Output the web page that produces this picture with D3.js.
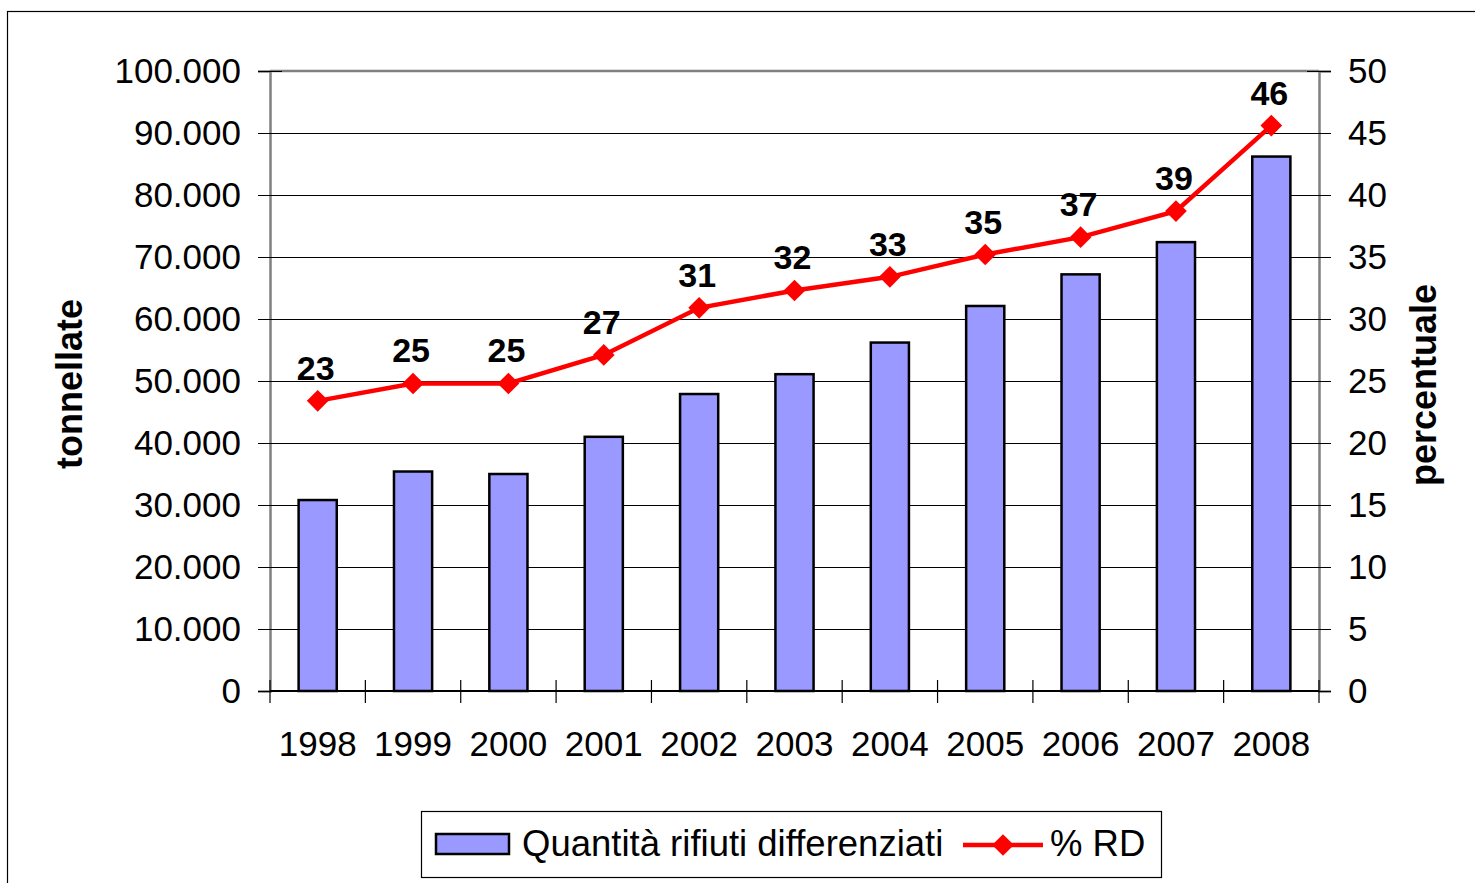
<!DOCTYPE html>
<html>
<head>
<meta charset="utf-8">
<script src="https://cdn.jsdelivr.net/npm/d3@7"></script>
<style>
  body { margin: 0; background: #fff; }
  text { font-family: "Liberation Sans", Arial, sans-serif; }
</style>
</head>
<body>
<div id="viz"></div>
<script>
// data
const years = ["1998", "1999", "2000", "2001", "2002", "2003", "2004", "2005", "2006", "2007", "2008"];
const tonnes = [30800, 35400, 35000, 41000, 47900, 51100, 56200, 62100, 67200, 72400, 86200];
const pctRD = [23.4, 24.8, 24.8, 27.1, 30.9, 32.3, 33.4, 35.2, 36.6, 38.7, 45.6];
const leftTicks = d3.range(0, 100001, 10000);
const rightTicks = d3.range(0, 51, 5);
const legendLabels = ["Quantità rifiuti differenziati", "% RD"];

let width = 1475;
let height = 883;
let plot = { left: 270, right: 1319, top: 71, bottom: 691 };

let itLocale = d3.formatLocale({ decimal: ",", thousands: ".", grouping: [3], currency: ["€", ""] });
let fmtT = itLocale.format(",d");

let svg = d3.select("#viz").append("svg")
  .attr("width", width)
  .attr("height", height);

// outer chart border
svg.append("rect")
  .attr("x", 7.5).attr("y", 11.5)
  .attr("width", 1480).attr("height", 890)
  .attr("fill", "none")
  .attr("stroke", "#000")
  .attr("stroke-width", 1.2);

let xScale = d3.scaleBand().domain(years).range([plot.left, plot.right]).padding(0);
let yLeft = d3.scaleLinear().domain([0, 100000]).range([plot.bottom, plot.top]);
let yRight = d3.scaleLinear().domain([0, 50]).range([plot.bottom, plot.top]);

// gridlines
svg.append("g")
  .attr("transform", `translate(${plot.left},0)`)
  .call(d3.axisLeft(yLeft).tickValues(leftTicks.slice(1, -1)).tickSize(-(plot.right - plot.left)).tickFormat(""))
  .call(g => g.select(".domain").remove())
  .selectAll("line").attr("stroke", "#000").attr("stroke-width", 1);

// top border of plot
svg.append("line")
  .attr("x1", plot.left).attr("x2", plot.right)
  .attr("y1", plot.top).attr("y2", plot.top)
  .attr("stroke", "#808080").attr("stroke-width", 2.5);

// bars
let barW = xScale.bandwidth() * 0.4;
svg.append("g")
  .selectAll("rect")
  .data(years)
  .enter()
  .append("rect")
  .attr("x", d => xScale(d) + xScale.bandwidth() / 2 - barW / 2)
  .attr("y", (d, i) => yLeft(tonnes[i]))
  .attr("width", barW)
  .attr("height", (d, i) => plot.bottom - yLeft(tonnes[i]))
  .attr("fill", "#9999ff")
  .attr("stroke", "#000")
  .attr("stroke-width", 2.5);

// left axis
let leftAxis = svg.append("g")
  .attr("transform", `translate(${plot.left},0)`)
  .call(d3.axisLeft(yLeft).tickValues(leftTicks).tickSize(12).tickPadding(17).tickFormat(fmtT));
leftAxis.select(".domain").attr("stroke", "#808080").attr("stroke-width", 2.5);
leftAxis.selectAll(".tick line").attr("x1", 12).attr("x2", -12).attr("stroke", "#000");
leftAxis.selectAll("text").style("font-size", "35px").attr("fill", "#000")
  .style("font-family", "'Liberation Sans', Arial, sans-serif");

// right axis
let rightAxis = svg.append("g")
  .attr("transform", `translate(${plot.right},0)`)
  .call(d3.axisRight(yRight).tickValues(rightTicks).tickSize(12).tickPadding(17));
rightAxis.select(".domain").attr("stroke", "#808080").attr("stroke-width", 2.5);
rightAxis.selectAll(".tick line").attr("x1", -12).attr("x2", 12).attr("stroke", "#000");
rightAxis.selectAll("text").style("font-size", "35px").attr("fill", "#000")
  .style("font-family", "'Liberation Sans', Arial, sans-serif");

// bottom axis
let bottomAxis = svg.append("g")
  .attr("transform", `translate(0,${plot.bottom})`)
  .call(d3.axisBottom(xScale).tickSize(0).tickPadding(40));
bottomAxis.select(".domain").remove();
bottomAxis.selectAll("text").style("font-size", "35px").attr("fill", "#000")
  .style("font-family", "'Liberation Sans', Arial, sans-serif");

svg.append("line")
  .attr("x1", plot.left).attr("x2", plot.right)
  .attr("y1", plot.bottom).attr("y2", plot.bottom)
  .attr("stroke", "#000").attr("stroke-width", 2);

// category separators
svg.append("g")
  .selectAll("line")
  .data(years.concat(["end"]))
  .enter()
  .append("line")
  .attr("x1", (d, i) => i < years.length ? xScale(d) : plot.right)
  .attr("x2", (d, i) => i < years.length ? xScale(d) : plot.right)
  .attr("y1", plot.bottom - 11)
  .attr("y2", plot.bottom + 12)
  .attr("stroke", "#000")
  .attr("stroke-width", 1.2);

// % RD line
let cx = d => xScale(d) + xScale.bandwidth() / 2;
let line = d3.line()
  .x(d => cx(d))
  .y((d, i) => yRight(pctRD[i]));

svg.append("path")
  .datum(years)
  .attr("fill", "none")
  .attr("stroke", "#ff0000")
  .attr("stroke-width", 4.5)
  .attr("d", line);

let diamond = d3.symbol().type(d3.symbolDiamond2).size(300);
svg.append("g")
  .selectAll("path")
  .data(years)
  .enter()
  .append("path")
  .attr("d", diamond)
  .attr("transform", (d, i) => `translate(${cx(d)},${yRight(pctRD[i])})`)
  .attr("fill", "#ff0000");

// value labels
svg.append("g")
  .selectAll("text")
  .data(years)
  .enter()
  .append("text")
  .attr("x", d => cx(d) - 2)
  .attr("y", (d, i) => yRight(pctRD[i]) - 21)
  .attr("text-anchor", "middle")
  .style("font-size", "34px")
  .style("font-weight", "bold")
  .text((d, i) => Math.round(pctRD[i]));

// axis titles
svg.append("text")
  .attr("transform", "translate(82,384) rotate(-90)")
  .attr("text-anchor", "middle")
  .style("font-size", "36px")
  .style("font-weight", "bold")
  .text("tonnellate");

svg.append("text")
  .attr("transform", "translate(1436,385) rotate(-90)")
  .attr("text-anchor", "middle")
  .style("font-size", "36px")
  .style("font-weight", "bold")
  .text("percentuale");

// legend
let legend = svg.append("g");
legend.append("rect")
  .attr("x", 421.5).attr("y", 811.5)
  .attr("width", 740).attr("height", 66)
  .attr("fill", "#fff")
  .attr("stroke", "#000")
  .attr("stroke-width", 1.2);

legend.append("rect")
  .attr("x", 436).attr("y", 834)
  .attr("width", 73).attr("height", 20)
  .attr("fill", "#9999ff")
  .attr("stroke", "#000")
  .attr("stroke-width", 2.5);

legend.append("text")
  .attr("x", 522).attr("y", 856)
  .style("font-size", "36.5px")
  .text(legendLabels[0]);

legend.append("line")
  .attr("x1", 963).attr("x2", 1043)
  .attr("y1", 845).attr("y2", 845)
  .attr("stroke", "#ff0000")
  .attr("stroke-width", 4.5);

legend.append("path")
  .attr("d", diamond)
  .attr("transform", "translate(1003,845)")
  .attr("fill", "#ff0000");

legend.append("text")
  .attr("x", 1050).attr("y", 856)
  .style("font-size", "36.5px")
  .text(legendLabels[1]);
</script>
</body>
</html>
